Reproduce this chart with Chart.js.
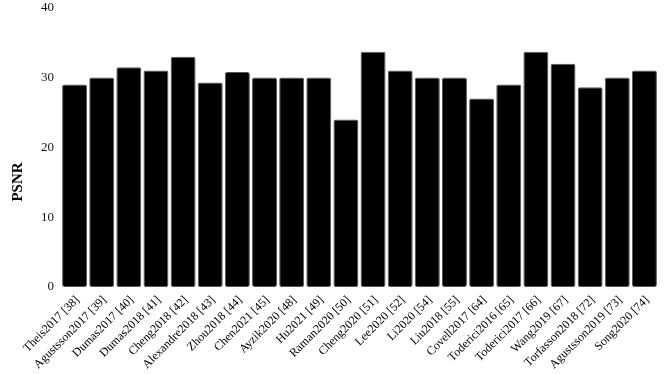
<!DOCTYPE html>
<html>
<head>
<meta charset="utf-8">
<script src="https://cdn.jsdelivr.net/npm/chart.js@4"></script>
<style>
  html, body { margin: 0; padding: 0; background: #fff; overflow: hidden; }
  body { width: 664px; height: 374px; }
  #wrap { width: 664px; height: 381px; margin-top: -7px; }
</style>
</head>
<body>
<div id="wrap"><canvas id="psnrChart"></canvas></div>
<script>
const methods = [
    'Theis2017 [38]', 'Agustsson2017 [39]', 'Dumas2017 [40]', 'Dumas2018 [41]',
    'Cheng2018 [42]', 'Alexandre2018 [43]', 'Zhou2018 [44]', 'Chen2021 [45]',
    'Ayzik2020 [48]', 'Hu2021 [49]', 'Raman2020 [50]', 'Cheng2020 [51]',
    'Lee2020 [52]', 'Li2020 [54]', 'Liu2018 [55]', 'Covell2017 [64]',
    'Toderici2016 [65]', 'Toderici2017 [66]', 'Wang2019 [67]', 'Torfasson2018 [72]',
    'Agustsson2019 [73]', 'Song2020 [74]'
];
const psnrValues = [
    29, 30, 31.5, 31, 33, 29.3, 30.8, 30, 30, 30, 24, 33.7,
    31, 30, 30, 27, 29, 33.7, 32, 28.6, 30, 31
];
const yTicks = [0, 10, 20, 30, 40];
const yTitle = 'PSNR';

const serif = "'Liberation Serif', 'Times New Roman', serif";

// y title drawn by hand: in the original it sits centred on the whole canvas, not the plot
const sideTitle = {
    id: 'sideTitle',
    afterDraw: function (chart) {
        const ctx = chart.ctx;
        ctx.save();
        ctx.translate(18, 189);
        ctx.rotate(-Math.PI / 2);
        ctx.font = 'bold 15px ' + serif;
        ctx.fillStyle = '#000';
        ctx.textAlign = 'center';
        ctx.textBaseline = 'middle';
        ctx.fillText(yTitle, 0, 0);
        ctx.restore();
    }
};

new Chart(document.getElementById('psnrChart').getContext('2d'), {
    type: 'bar',
    data: {
        labels: methods,
        datasets: [{
            label: 'PSNR',
            data: psnrValues,
            backgroundColor: '#000000',
            borderColor: '#555555',
            borderWidth: 1,
            borderRadius: 2,
            borderSkipped: false,
            barPercentage: 0.92,
            categoryPercentage: 1.0
        }]
    },
    options: {
        responsive: true,
        maintainAspectRatio: false,
        animation: false,
        layout: { padding: { top: 0, right: 6, left: 34, bottom: 0 } },
        plugins: {
            legend: { display: false },
            tooltip: { enabled: false }
        },
        scales: {
            x: {
                grid: { display: false, drawTicks: false },
                border: { display: false },
                afterFit: function (axis) { axis.height = 87; },
                ticks: {
                    color: '#000',
                    font: { family: serif, size: 12 },
                    minRotation: 45,
                    maxRotation: 45,
                    autoSkip: false,
                    labelOffset: 3,
                    padding: 6
                }
            },
            y: {
                min: 0,
                max: 40,
                afterBuildTicks: function (axis) {
                    axis.ticks = yTicks.map(function (v) { return { value: v }; });
                },
                grid: { display: false, drawTicks: false },
                border: { display: false },
                ticks: {
                    color: '#111',
                    font: { family: serif, size: 13 },
                    padding: 7
                }
            }
        }
    },
    plugins: [sideTitle]
});
</script>
</body>
</html>
